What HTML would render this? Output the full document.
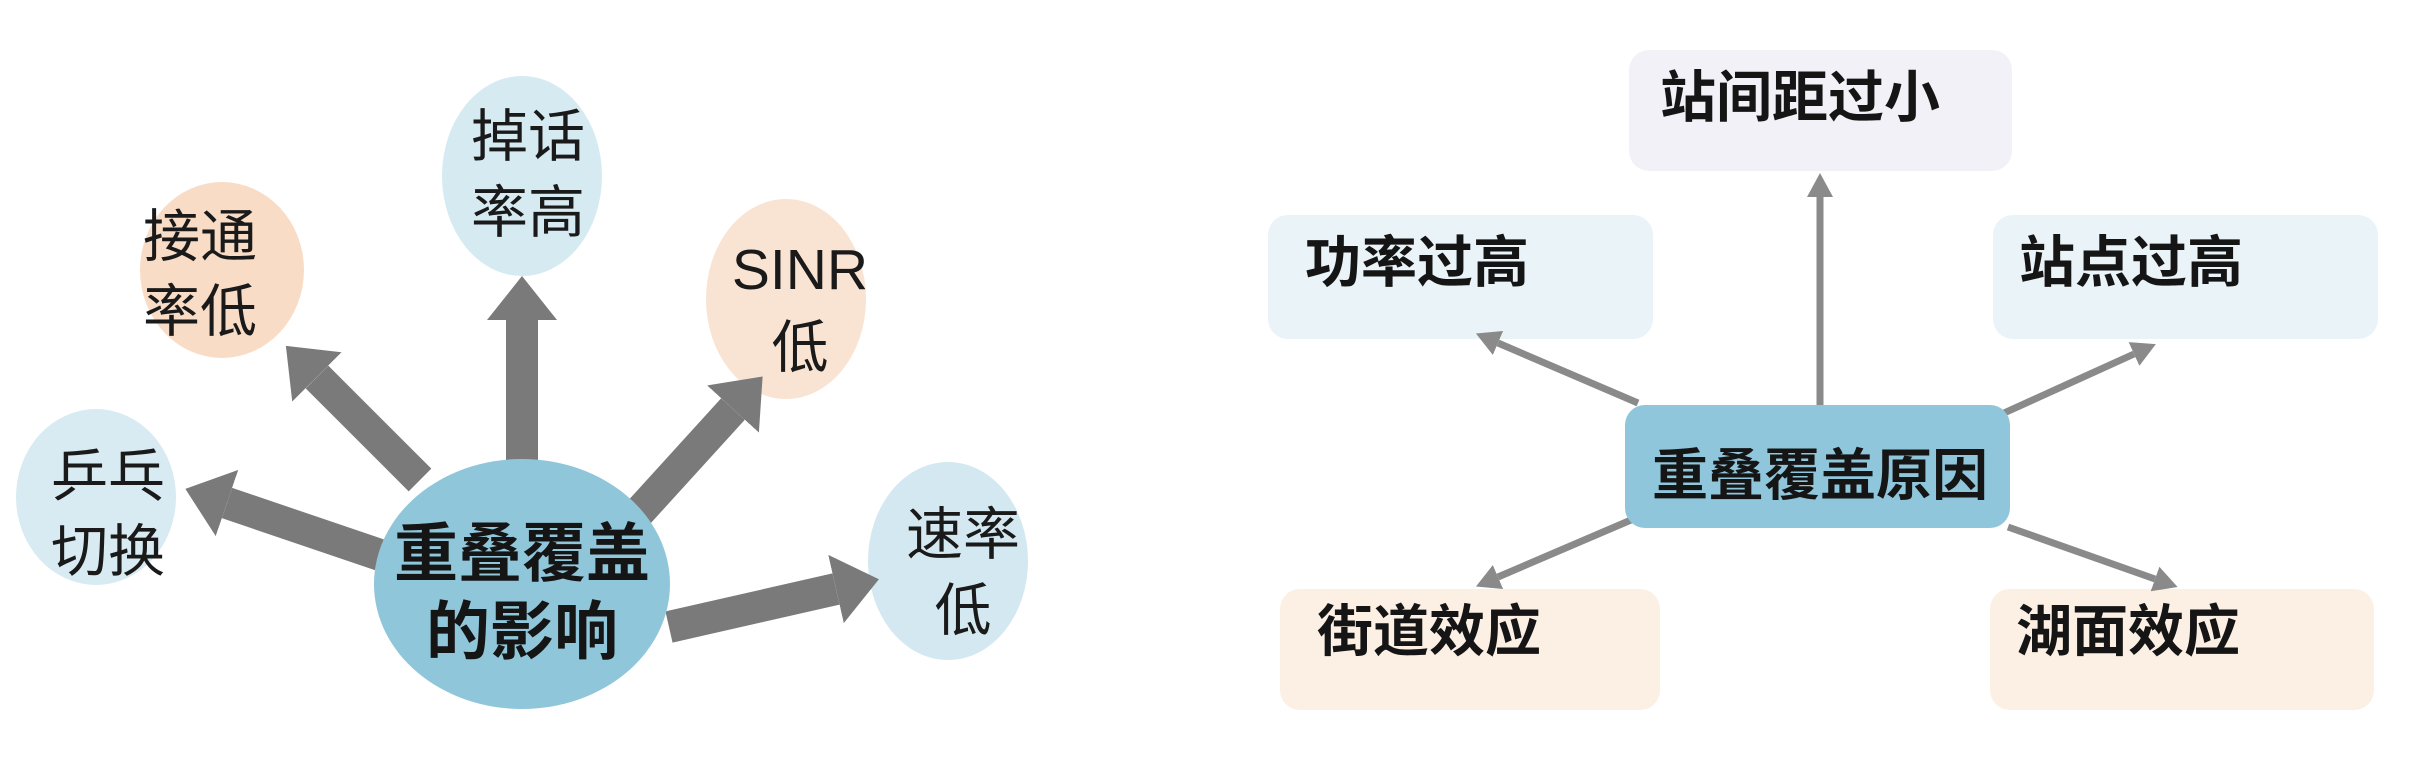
<!DOCTYPE html>
<html><head><meta charset="utf-8"><style>
html,body{margin:0;padding:0;background:#fff;}
svg{display:block;}
text{font-family:"Liberation Sans","Noto Sans CJK SC",sans-serif;}
.c{font-size:57px;fill:#1a1a1a;}
.b{font-size:56px;font-weight:bold;fill:#151515;}
</style></head><body>
<svg width="2410" height="776" viewBox="0 0 2410 776" xmlns="http://www.w3.org/2000/svg">
<defs>
<marker id="h1" viewBox="0 0 10 10" refX="0" refY="5" markerUnits="userSpaceOnUse" markerWidth="44" markerHeight="70" orient="auto" preserveAspectRatio="none"><path d="M0,0 L10,5 L0,10 z" fill="#7a7a7a"/></marker>
<marker id="h2" viewBox="0 0 10 10" refX="0" refY="5" markerUnits="userSpaceOnUse" markerWidth="24" markerHeight="26" orient="auto" preserveAspectRatio="none"><path d="M0,0 L10,5 L0,10 z" fill="#8a8a8a"/></marker>
</defs>
<rect width="2410" height="776" fill="#fff"/>
<!-- left diagram -->
<ellipse cx="522" cy="176" rx="80" ry="100" fill="#d6eaf2"/>
<ellipse cx="222" cy="270" rx="82" ry="88" fill="#f8dcc6"/>
<ellipse cx="786" cy="299" rx="80" ry="100" fill="#f9e3d3"/>
<ellipse cx="96" cy="497" rx="80" ry="88" fill="#d8ebf2"/>
<ellipse cx="948" cy="561" rx="80" ry="99" fill="#d3e8f0"/>
<g stroke="#7a7a7a" stroke-width="32" fill="none">
<line x1="522" y1="525" x2="522" y2="320" marker-end="url(#h1)"/>
<line x1="420" y1="480" x2="317" y2="377" marker-end="url(#h1)"/>
<line x1="612" y1="542" x2="733" y2="409" marker-end="url(#h1)"/>
<line x1="380" y1="555" x2="227" y2="503" marker-end="url(#h1)"/>
<line x1="669" y1="627" x2="836" y2="589" marker-end="url(#h1)"/>
</g>
<ellipse cx="522" cy="584" rx="148" ry="125" fill="#8fc6da"/>
<text class="c" x="528" y="156" text-anchor="middle">掉话</text>
<text class="c" x="528" y="232" text-anchor="middle">率高</text>
<text class="c" x="200" y="256" text-anchor="middle">接通</text>
<text class="c" x="200" y="331" text-anchor="middle">率低</text>
<text class="c" x="800" y="289" text-anchor="middle">SINR</text>
<text class="c" x="800" y="367" text-anchor="middle">低</text>
<text class="c" x="108" y="496" text-anchor="middle">乒乓</text>
<text class="c" x="108" y="571" text-anchor="middle">切换</text>
<text class="c" x="963" y="554" text-anchor="middle">速率</text>
<text class="c" x="963" y="630" text-anchor="middle">低</text>
<text class="b" x="522" y="576" text-anchor="middle" style="font-size:64px">重叠覆盖</text>
<text class="b" x="522" y="654" text-anchor="middle" style="font-size:64px">的影响</text>
<!-- right diagram -->
<rect x="1629" y="50" width="383" height="121" rx="20" fill="#f3f1f8"/>
<rect x="1268" y="215" width="385" height="124" rx="20" fill="#e9f3f8"/>
<rect x="1993" y="215" width="385" height="124" rx="20" fill="#e9f3f8"/>
<rect x="1280" y="589" width="380" height="121" rx="20" fill="#fcefe4"/>
<rect x="1990" y="589" width="384" height="121" rx="20" fill="#fcefe4"/>
<g stroke="#8a8a8a" stroke-width="7" fill="none">
<line x1="1820" y1="406" x2="1820" y2="197" marker-end="url(#h2)"/>
<line x1="1638" y1="403" x2="1498" y2="343" marker-end="url(#h2)"/>
<line x1="1993" y1="418" x2="2134" y2="354" marker-end="url(#h2)"/>
<line x1="1638" y1="517" x2="1498" y2="577" marker-end="url(#h2)"/>
<line x1="2008" y1="527" x2="2155" y2="579" marker-end="url(#h2)"/>
</g>
<rect x="1625" y="405" width="385" height="123" rx="20" fill="#8fc6db"/>
<text class="b" x="1660" y="117">站间距过小</text>
<text class="b" x="1305" y="282">功率过高</text>
<text class="b" x="2019" y="282">站点过高</text>
<text class="b" x="1652" y="495">重叠覆盖原因</text>
<text class="b" x="1317" y="651">街道效应</text>
<text class="b" x="2016" y="651">湖面效应</text>
</svg>
</body></html>
